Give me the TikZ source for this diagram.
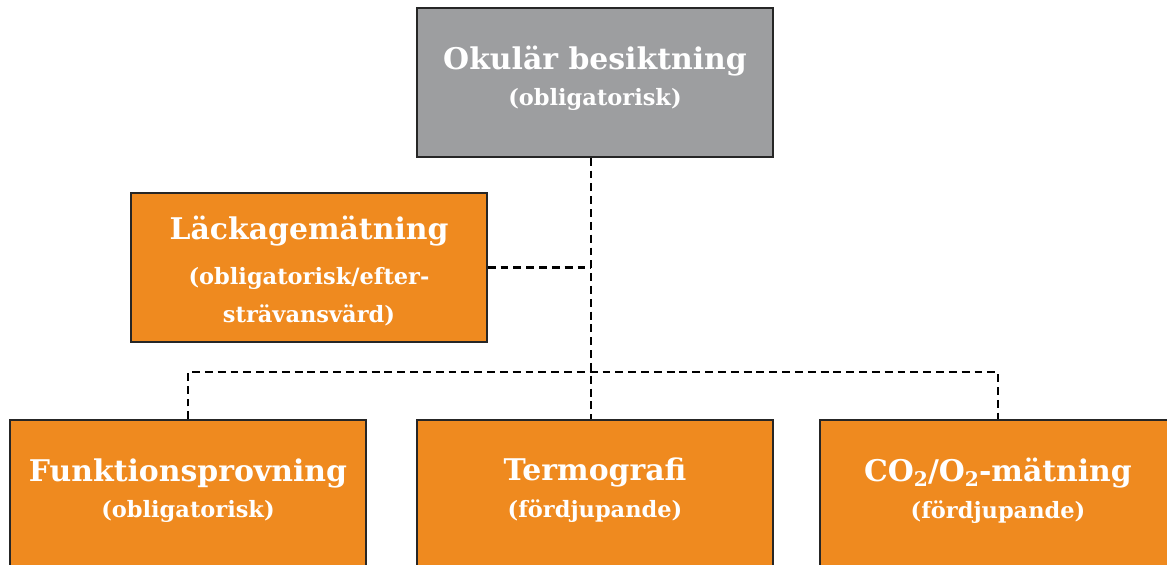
\documentclass[tikz,border=0pt]{standalone}
\usepackage{fontspec}
\setmainfont{DejaVu Serif}
\usetikzlibrary{calc}
\definecolor{boxgrey}{HTML}{9D9EA0}
\definecolor{boxorange}{HTML}{EF8A1F}
\newcommand{\headfont}{\bfseries\fontsize{17}{20}\selectfont}
\newcommand{\notefont}{\bfseries\fontsize{12.8}{15}\selectfont}
\newcommand{\low}[1]{\raisebox{-.35ex}{\fontsize{11.5}{12}\selectfont #1}}
\begin{document}
\begin{tikzpicture}[
		box/.style={draw=black!85, line width=.8pt, text=white, align=center,
			minimum width=7.12cm, minimum height=2.98cm, inner sep=0pt, text depth=7.5pt},
		greybox/.style={box, fill=boxgrey},
		orangebox/.style={box, fill=boxorange},
		link/.style={line width=1.3pt, dash pattern=on 4.5pt off 2.8pt}
	]
		\path [use as bounding box] (0,0) rectangle (23.34,-11.28);
		\clip (0,0) rectangle (23.34,-11.28);
		% boxes
		\node [greybox] (okular) at (11.9,-1.65) {\headfont Okulär besiktning\\[6pt]\notefont (obligatorisk)};
		\node [orangebox, text height=66pt, text depth=3pt] (lackage) at (6.18,-5.35) {\headfont Läckagemätning\\[11pt]\notefont (obligatorisk/efter-\\[8pt]\notefont strävansvärd)};
		\node [orangebox] (funktion) at (3.76,-9.89) {\headfont Funktionsprovning\\[6pt]\notefont (obligatorisk)};
		\node [orangebox] (termo) at (11.9,-9.89) {\headfont Termografi\\[6pt]\notefont (fördjupande)};
		\node [orangebox] (gas) at (19.96,-9.89) {\headfont CO\low{2}/O\low{2}-mätning\\[6pt]\notefont (fördjupande)};
		% connectors
		\coordinate (hub) at (11.82,-7.44);
		\draw [link] (okular.south -| hub) -- (termo.north -| hub);
		\draw [link] (lackage.east) -- (lackage.east -| hub);
		\draw [link] (funktion.north) |- (hub) -| (gas.north);
	\end{tikzpicture}
\end{document}
